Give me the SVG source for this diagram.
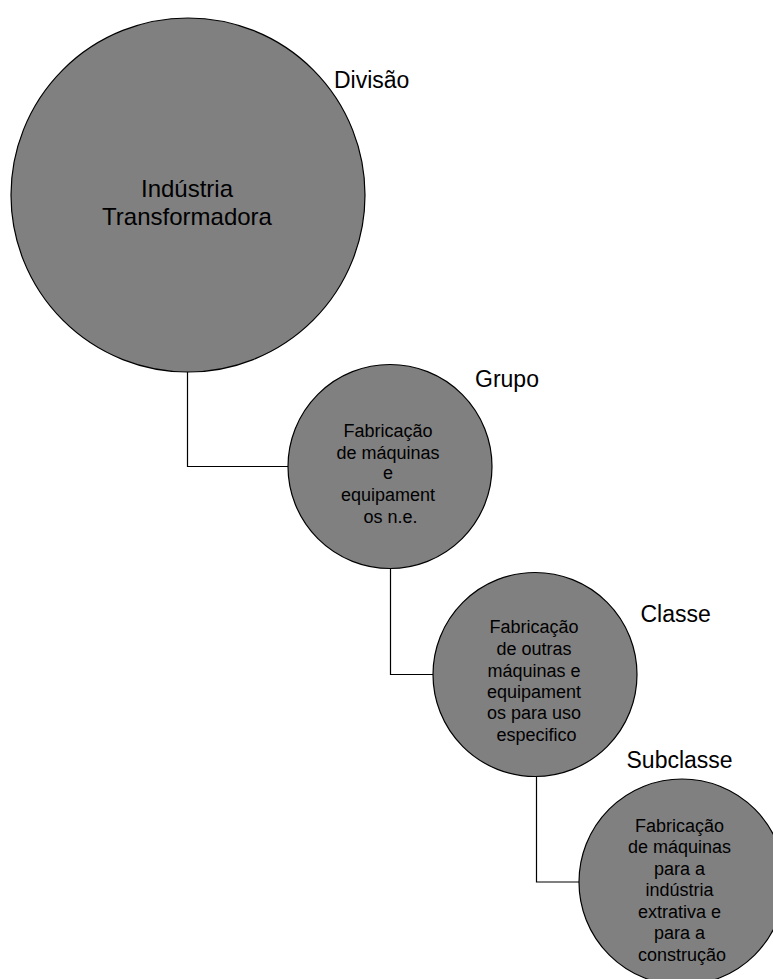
<svg xmlns="http://www.w3.org/2000/svg" width="773" height="979" viewBox="0 0 773 979">
  <style>
    .node circle { fill: #808080; stroke: #000; stroke-width: 1.2; }
    .inner { font-family: "Liberation Sans", Arial, sans-serif; font-size: 18px; fill: #000; text-anchor: middle; }
    .main { font-family: "Liberation Sans", Arial, sans-serif; font-size: 24px; fill: #000; text-anchor: middle; }
    .level { font-family: "Liberation Sans", Arial, sans-serif; font-size: 23px; fill: #000; }
    .link { fill: none; stroke: #000; stroke-width: 1.2; }
  </style>
  <rect width="773" height="979" fill="#fff"/>

  <!-- elbow connectors between levels -->
  <g id="connectors">
    <path class="link" d="M187.5 372 V466.5 H288"/>
    <path class="link" d="M390.5 568.5 V674.5 H433"/>
    <path class="link" d="M536.5 776.5 V882 H579"/>
  </g>

  <g id="divisao" class="node">
    <circle cx="188" cy="195" r="177"/>
    <text class="main" x="187" y="197">Indústria</text>
    <text class="main" x="187" y="225">Transformadora</text>
    <text class="level" x="334" y="87.5">Divisão</text>
  </g>

  <g id="grupo" class="node">
    <circle cx="390" cy="466.5" r="102"/>
    <text class="inner" x="390.5">
      <tspan x="390.5" y="436.7">Fabricação</tspan>
      <tspan x="390.5" y="458.5">de máquinas</tspan>
      <tspan x="390.5" y="479">e</tspan>
      <tspan x="390.5" y="501">equipament</tspan>
      <tspan x="390.5" y="522.5">os n.e.</tspan>
    </text>
    <text class="level" x="475" y="386.7">Grupo</text>
  </g>

  <g id="classe" class="node">
    <circle cx="535" cy="674.5" r="102"/>
    <text class="inner">
      <tspan x="536.5" y="633.3">Fabricação</tspan>
      <tspan x="536.5" y="655">de outras</tspan>
      <tspan x="536.5" y="676.5">máquinas e</tspan>
      <tspan x="536.5" y="697.5">equipament</tspan>
      <tspan x="536.5" y="719">os para uso</tspan>
      <tspan x="536.5" y="740.5">especifico</tspan>
    </text>
    <text class="level" x="640.5" y="622.3">Classe</text>
  </g>

  <g id="subclasse" class="node">
    <circle cx="682" cy="882" r="103"/>
    <text class="inner">
      <tspan x="682" y="831.7">Fabricação</tspan>
      <tspan x="682" y="853">de máquinas</tspan>
      <tspan x="682" y="874.5">para a</tspan>
      <tspan x="682" y="896">indústria</tspan>
      <tspan x="682" y="917.5">extrativa e</tspan>
      <tspan x="682" y="939">para a</tspan>
      <tspan x="682" y="960.5">construção</tspan>
    </text>
    <text class="level" x="626.5" y="767.5">Subclasse</text>
  </g>
</svg>
